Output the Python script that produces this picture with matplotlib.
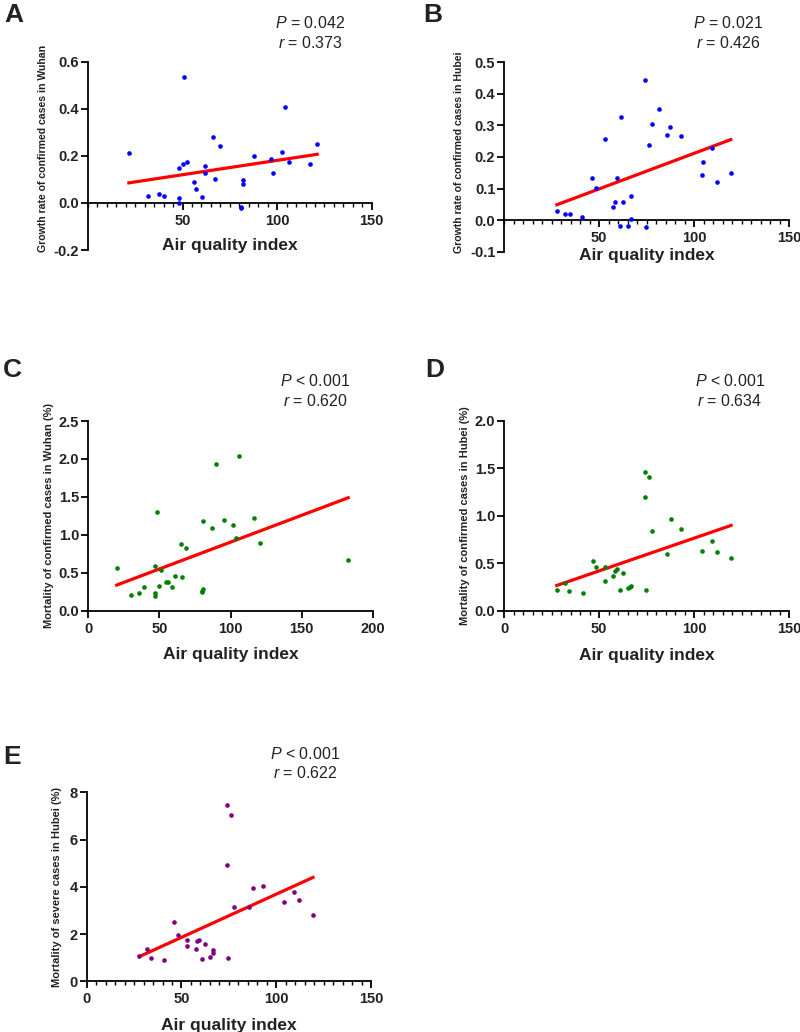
import numpy as np
import matplotlib
matplotlib.use('Agg')
import matplotlib.pyplot as plt
from matplotlib.ticker import MultipleLocator

plt.rcParams['font.family'] = ['Liberation Sans', 'DejaVu Sans']
plt.rcParams['mathtext.fontset'] = 'custom'
plt.rcParams['mathtext.rm'] = 'Liberation Sans'
plt.rcParams['mathtext.it'] = 'Liberation Sans:italic'

# A - growth rate Wuhan
aqi_a = [21.6, 31.5, 37.3, 40.4, 48.3, 48.3, 48.3, 50.2, 51.0, 52.3, 56.1, 57.1, 60.1, 62.0, 62.0,
         65.9, 67.1, 69.9, 80.7, 80.7, 81.7, 81.7, 87.6, 96.5, 97.6, 102.4, 104.4, 106.4, 117.2, 121.2]
growth_wuhan = [0.211, 0.030, 0.040, 0.030, 0.149, 0.021, 0.000, 0.166, 0.537, 0.172, 0.091, 0.060, 0.024, 0.156, 0.128,
                0.279, 0.102, 0.242, -0.016, -0.021, 0.098, 0.081, 0.199, 0.187, 0.129, 0.218, 0.408, 0.172, 0.167, 0.251]

# B - growth rate Hubei
aqi_b = [27.7, 31.8, 34.4, 41.2, 46.3, 48.4, 53.2, 57.5, 58.4, 59.3, 60.7, 61.6, 62.6, 65.3, 66.5,
         67.0, 74.0, 74.6, 76.3, 77.9, 81.4, 85.6, 87.5, 93.2, 104.2, 104.9, 109.5, 111.9, 119.3]
growth_hubei = [0.030, 0.018, 0.018, 0.011, 0.134, 0.103, 0.256, 0.041, 0.056, 0.132, -0.020, 0.328, 0.058, -0.019, 0.078,
                0.005, 0.443, -0.022, 0.237, 0.305, 0.353, 0.271, 0.295, 0.266, 0.143, 0.185, 0.229, 0.122, 0.149]

# C - mortality Wuhan
aqi_c = [20.0, 29.8, 35.9, 39.0, 46.9, 46.9, 46.9, 48.5, 49.7, 50.9, 54.6, 55.8, 58.9, 61.0, 65.0,
         65.9, 68.7, 79.7, 80.2, 80.7, 80.9, 87.0, 89.8, 95.6, 101.8, 103.9, 105.8, 116.8, 120.7, 182.8]
mort_wuhan = [0.566, 0.211, 0.229, 0.316, 0.588, 0.237, 0.193, 1.303, 0.329, 0.536, 0.378, 0.378, 0.308, 0.457, 0.874,
              0.439, 0.829, 0.242, 0.263, 0.281, 1.176, 1.084, 1.930, 1.197, 1.128, 0.961, 2.035, 1.220, 0.886, 0.667]

# D - mortality Hubei
aqi_d = [27.6, 31.9, 33.9, 41.3, 46.5, 48.3, 53.2, 53.2, 57.4, 58.3, 59.3, 60.9, 62.5, 65.3, 66.3,
         66.8, 74.1, 74.1, 74.4, 76.3, 77.9, 85.6, 87.6, 93.2, 104.1, 109.5, 111.9, 119.5]
mort_hubei = [0.222, 0.289, 0.205, 0.191, 0.522, 0.459, 0.459, 0.311, 0.370, 0.423, 0.437, 0.219, 0.402, 0.237, 0.247,
              0.261, 1.457, 1.201, 0.219, 1.408, 0.844, 0.592, 0.963, 0.858, 0.624, 0.737, 0.617, 0.554]

# E - mortality severe Hubei
aqi_e = [27.8, 31.8, 33.9, 41.0, 46.2, 48.2, 53.1, 53.1, 57.5, 58.4, 59.4, 60.7, 62.4, 65.1,
         66.5, 66.8, 73.9, 73.9, 74.4, 76.1, 77.9, 85.5, 87.6, 93.2, 104.1, 109.4, 112.0, 119.4]
mort_severe = [1.09, 1.35, 0.99, 0.90, 2.51, 1.96, 1.76, 1.51, 1.38, 1.71, 1.75, 0.96, 1.57, 1.04,
               1.33, 1.21, 7.48, 4.91, 0.97, 7.02, 3.16, 3.16, 3.94, 4.05, 3.34, 3.78, 3.44, 2.79]

W, H = 800, 1032
fig = plt.figure(figsize=(W / 100, H / 100), dpi=100)


def box(left, top, right, bottom):
    return [left / W, 1 - bottom / H, (right - left) / W, (bottom - top) / H]


def painel(rect, x, y, cor, ylabel, xlim, ylim, yticks, xticks, zero_axis,
           ylab_x, xlab_y, minor=True, ylab_size=8, ylab_y=0.5):
    ax = fig.add_axes(rect)
    ax.scatter(x, y, s=11, color=cor, zorder=3, linewidths=0)
    # reta de regressao linear
    b, a = np.polyfit(x, y, 1)
    xx = np.array([min(x), max(x)])
    ax.plot(xx, a + b * xx, color='#ff0000', lw=2.3, zorder=2)
    ax.set_xlim(*xlim)
    ax.set_ylim(*ylim)
    ax.set_yticks(yticks)
    ax.set_yticklabels([f'{v:.1f}' if isinstance(v, float) else str(v) for v in yticks])
    ax.set_xticks(xticks)
    if minor:
        ax.xaxis.set_minor_locator(MultipleLocator(5))
    for s in ['top', 'right']:
        ax.spines[s].set_visible(False)
    for s in ['left', 'bottom']:
        ax.spines[s].set_linewidth(1.3)
    if zero_axis:
        ax.spines['bottom'].set_position(('data', 0))
    ax.tick_params(axis='both', which='major', length=5, width=1.3, labelsize=10.5, pad=1.5)
    ax.tick_params(axis='x', which='major', pad=3)
    ax.tick_params(axis='x', which='minor', length=3, width=1.0)
    for lb in ax.get_xticklabels() + ax.get_yticklabels():
        lb.set_fontweight('bold')
        lb.set_color('#222222')
    ax.set_ylabel(ylabel, fontsize=ylab_size, fontweight='bold', color='#222222')
    ax.yaxis.set_label_coords(ylab_x, ylab_y)
    ax.set_xlabel('Air quality index', fontsize=12.5, fontweight='bold', color='#222222')
    ax.xaxis.set_label_coords(0.5, xlab_y)
    return ax


painel(box(88, 61.7, 371.7, 250), aqi_a, growth_wuhan, '#0000ff',
       'Growth rate of confirmed cases in Wuhan', (0, 150), (-0.2, 0.6),
       [-0.2, 0.0, 0.2, 0.4, 0.6], [50, 100, 150], True, -0.14, 0.064,
       ylab_size=7.6, ylab_y=0.54)
painel(box(504.3, 62.3, 789, 251.7), aqi_b, growth_hubei, '#0000ff',
       'Growth rate of confirmed cases in Hubei', (0, 150), (-0.1, 0.5),
       [-0.1, 0.0, 0.1, 0.2, 0.3, 0.4, 0.5], [50, 100, 150], True, -0.143, 0.02,
       ylab_size=7.6, ylab_y=0.525)
painel(box(88.3, 421, 372.7, 610.7), aqi_c, mort_wuhan, '#008000',
       'Mortality of confirmed cases in Wuhan (%)', (0, 200), (0, 2.5),
       [0.0, 0.5, 1.0, 1.5, 2.0, 2.5], [0, 50, 100, 150, 200], False, -0.121, -0.191, minor=False)
painel(box(504.3, 420.7, 789, 610.7), aqi_d, mort_hubei, '#008000',
       'Mortality of confirmed cases in Hubei (%)', (0, 150), (0, 2.0),
       [0.0, 0.5, 1.0, 1.5, 2.0], [0, 50, 100, 150], False, -0.121, -0.196)
painel(box(86.7, 792.3, 371, 981.3), aqi_e, mort_severe, '#800080',
       'Mortality of severe cases in Hubei (%)', (0, 150), (0, 8),
       [0, 2, 4, 6, 8], [0, 50, 100, 150], False, -0.087, -0.194)

# letras dos paineis
letras = [('A', 4, 3), ('B', 423, 3), ('C', 3, 358), ('D', 425, 358), ('E', 3, 745)]
for l, px, py in letras:
    fig.text(px / W, 1 - py / H, l, fontsize=19, fontweight='bold', ha='left', va='top', color='#222222')

# estatisticas
stats = [(310, 23, 43, '=', '0.042', '0.373'), (728, 23, 43, '=', '0.021', '0.426'),
         (315, 381, 401, '<', '0.001', '0.620'), (730, 381, 401, '<', '0.001', '0.634'),
         (305, 754, 773, '<', '0.001', '0.622')]
for cx, y1, y2, sinal, p, r in stats:
    fig.text(cx / W, 1 - y1 / H, f'$\\it{{P}}$ {sinal} {p}', fontsize=11.5, ha='center', va='center', color='#222222')
    fig.text(cx / W, 1 - y2 / H, f'$\\it{{r}}$ = {r}', fontsize=11.5, ha='center', va='center', color='#222222')

plt.savefig('out.png', dpi=100)
